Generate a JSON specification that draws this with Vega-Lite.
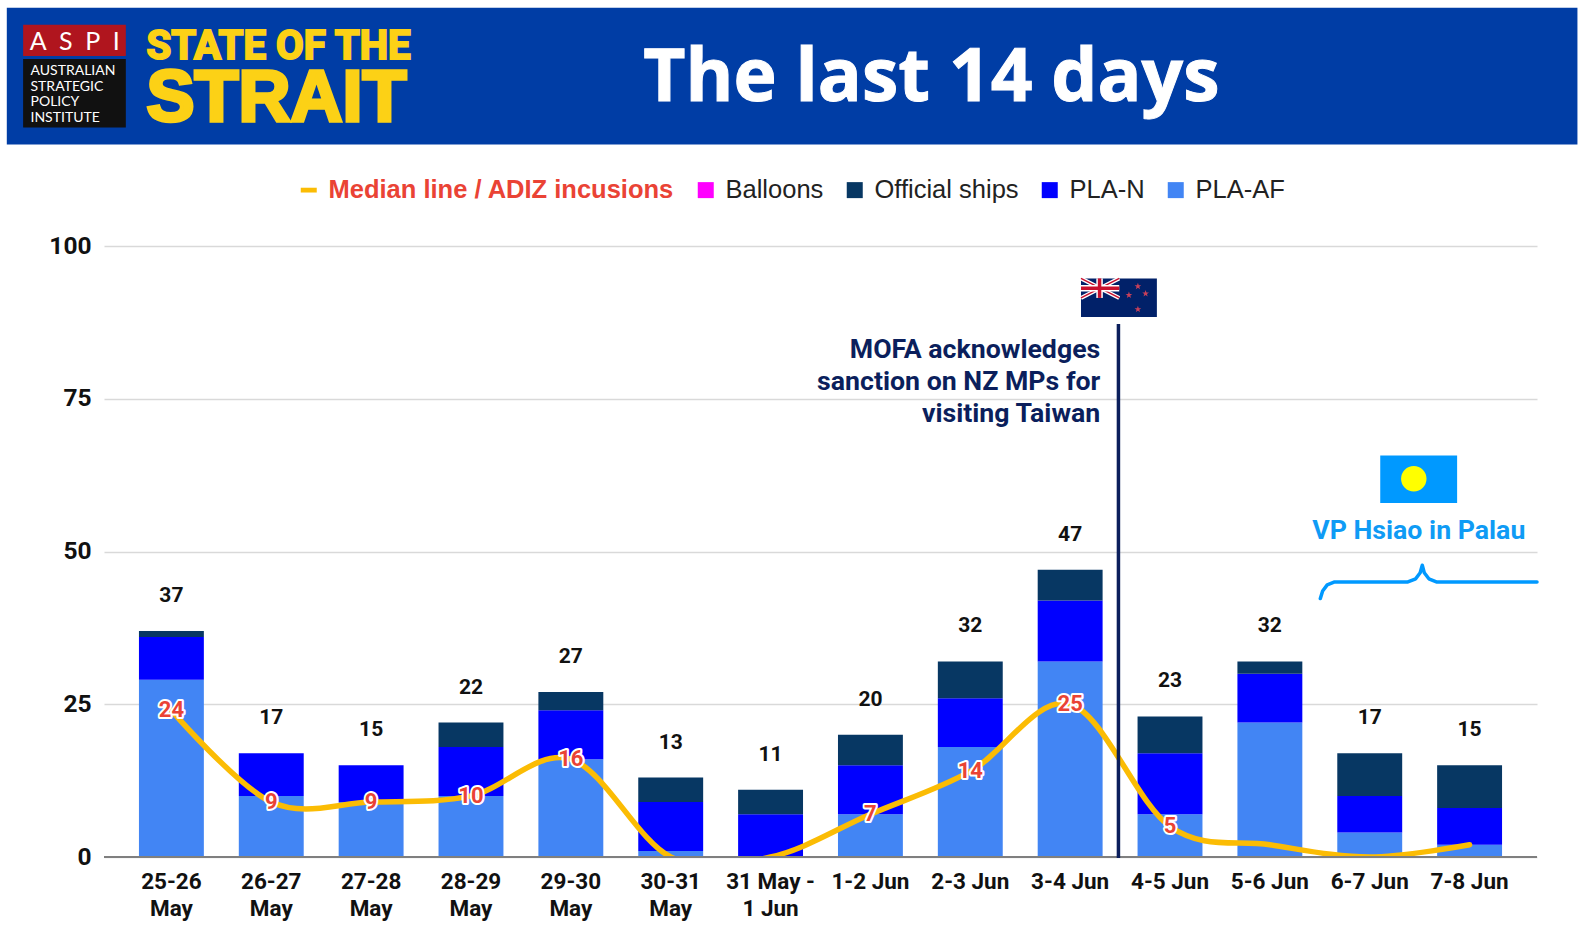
{
  "$schema": "https://vega.github.io/schema/vega-lite/v6.json",
  "width": 1433,
  "height": 611,
  "autosize": "none",
  "padding": {"left": 104, "top": 246, "right": 49, "bottom": 81},
  "background": "white",
  "config": {"view": {"stroke": null}, "text": {"font": "Roboto"}},
  "datasets": {
    "counts": [
      {"period": "25-26 May", "series": "PLA-AF", "rank": 1, "count": 29},
      {"period": "25-26 May", "series": "PLA-N", "rank": 2, "count": 7},
      {"period": "25-26 May", "series": "Official ships", "rank": 3, "count": 1},
      {"period": "26-27 May", "series": "PLA-AF", "rank": 1, "count": 10},
      {"period": "26-27 May", "series": "PLA-N", "rank": 2, "count": 7},
      {"period": "26-27 May", "series": "Official ships", "rank": 3, "count": 0},
      {"period": "27-28 May", "series": "PLA-AF", "rank": 1, "count": 9},
      {"period": "27-28 May", "series": "PLA-N", "rank": 2, "count": 6},
      {"period": "27-28 May", "series": "Official ships", "rank": 3, "count": 0},
      {"period": "28-29 May", "series": "PLA-AF", "rank": 1, "count": 10},
      {"period": "28-29 May", "series": "PLA-N", "rank": 2, "count": 8},
      {"period": "28-29 May", "series": "Official ships", "rank": 3, "count": 4},
      {"period": "29-30 May", "series": "PLA-AF", "rank": 1, "count": 16},
      {"period": "29-30 May", "series": "PLA-N", "rank": 2, "count": 8},
      {"period": "29-30 May", "series": "Official ships", "rank": 3, "count": 3},
      {"period": "30-31 May", "series": "PLA-AF", "rank": 1, "count": 1},
      {"period": "30-31 May", "series": "PLA-N", "rank": 2, "count": 8},
      {"period": "30-31 May", "series": "Official ships", "rank": 3, "count": 4},
      {"period": "31 May - 1 Jun", "series": "PLA-AF", "rank": 1, "count": 0},
      {"period": "31 May - 1 Jun", "series": "PLA-N", "rank": 2, "count": 7},
      {"period": "31 May - 1 Jun", "series": "Official ships", "rank": 3, "count": 4},
      {"period": "1-2 Jun", "series": "PLA-AF", "rank": 1, "count": 7},
      {"period": "1-2 Jun", "series": "PLA-N", "rank": 2, "count": 8},
      {"period": "1-2 Jun", "series": "Official ships", "rank": 3, "count": 5},
      {"period": "2-3 Jun", "series": "PLA-AF", "rank": 1, "count": 18},
      {"period": "2-3 Jun", "series": "PLA-N", "rank": 2, "count": 8},
      {"period": "2-3 Jun", "series": "Official ships", "rank": 3, "count": 6},
      {"period": "3-4 Jun", "series": "PLA-AF", "rank": 1, "count": 32},
      {"period": "3-4 Jun", "series": "PLA-N", "rank": 2, "count": 10},
      {"period": "3-4 Jun", "series": "Official ships", "rank": 3, "count": 5},
      {"period": "4-5 Jun", "series": "PLA-AF", "rank": 1, "count": 7},
      {"period": "4-5 Jun", "series": "PLA-N", "rank": 2, "count": 10},
      {"period": "4-5 Jun", "series": "Official ships", "rank": 3, "count": 6},
      {"period": "5-6 Jun", "series": "PLA-AF", "rank": 1, "count": 22},
      {"period": "5-6 Jun", "series": "PLA-N", "rank": 2, "count": 8},
      {"period": "5-6 Jun", "series": "Official ships", "rank": 3, "count": 2},
      {"period": "6-7 Jun", "series": "PLA-AF", "rank": 1, "count": 4},
      {"period": "6-7 Jun", "series": "PLA-N", "rank": 2, "count": 6},
      {"period": "6-7 Jun", "series": "Official ships", "rank": 3, "count": 7},
      {"period": "7-8 Jun", "series": "PLA-AF", "rank": 1, "count": 2},
      {"period": "7-8 Jun", "series": "PLA-N", "rank": 2, "count": 6},
      {"period": "7-8 Jun", "series": "Official ships", "rank": 3, "count": 7}
    ],
    "median": [
      {"period": "25-26 May", "median": 24},
      {"period": "26-27 May", "median": 9},
      {"period": "27-28 May", "median": 9},
      {"period": "28-29 May", "median": 10},
      {"period": "29-30 May", "median": 16},
      {"period": "30-31 May", "median": 0},
      {"period": "31 May - 1 Jun", "median": 0},
      {"period": "1-2 Jun", "median": 7},
      {"period": "2-3 Jun", "median": 14},
      {"period": "3-4 Jun", "median": 25},
      {"period": "4-5 Jun", "median": 5},
      {"period": "5-6 Jun", "median": 2},
      {"period": "6-7 Jun", "median": 0},
      {"period": "7-8 Jun", "median": 2}
    ],
    "brace": [
      {"day": 12.014, "value": 42.3},
      {"day": 12.037, "value": 43.54},
      {"day": 12.083, "value": 44.54},
      {"day": 12.157, "value": 45.02},
      {"day": 12.891, "value": 45.02},
      {"day": 12.969, "value": 45.53},
      {"day": 13.014, "value": 46.52},
      {"day": 13.035, "value": 47.75},
      {"day": 13.055, "value": 46.52},
      {"day": 13.101, "value": 45.53},
      {"day": 13.176, "value": 45.02},
      {"day": 14.184, "value": 45.02}
    ],
    "stars": [
      {"day": 10.187, "value": 93.4},
      {"day": 10.097, "value": 91.96},
      {"day": 10.264, "value": 92.2},
      {"day": 10.187, "value": 89.65}
    ]
  },
  "resolve": {"scale": {"x": "independent"}, "axis": {"y": "independent"}},
  "layer": [
    {
      "layer": [
        {
          "data": {"name": "counts"},
          "mark": {"type": "bar"},
          "encoding": {
            "x": {
              "field": "period",
              "type": "nominal",
              "sort": null,
              "title": null,
              "scale": {"paddingInner": 0.35, "paddingOuter": 0.35},
              "axis": {
                "domain": false,
                "ticks": false,
                "labelAngle": 0,
                "labelFont": "Roboto",
                "labelFontWeight": 700,
                "labelFontSize": 22.5,
                "labelColor": "#111111",
                "labelPadding": 13,
                "labelLineHeight": 27,
                "labelOverlap": false,
                "labelLimit": 200,
                "labelExpr": "datum.label == '31 May - 1 Jun' ? ['31 May -', '1 Jun'] : indexof(datum.label, 'May') > 0 ? [replace(datum.label, ' May', ''), 'May'] : datum.label"
              }
            },
            "y": {
              "aggregate": "sum",
              "field": "count",
              "type": "quantitative",
              "title": null,
              "scale": {"domain": [0, 100], "nice": false},
              "axis": {
                "values": [0, 25, 50, 75, 100],
                "domain": false,
                "ticks": false,
                "grid": true,
                "gridColor": "#d9d9d9",
                "gridWidth": 1.5,
                "labelFont": "Roboto",
                "labelFontWeight": 700,
                "labelFontSize": 24.5,
                "labelColor": "#111111",
                "labelPadding": 13
              }
            },
            "color": {
              "field": "series",
              "type": "nominal",
              "title": null,
              "scale": {
                "domain": ["Median line / ADIZ incusions", "Balloons", "Official ships", "PLA-N", "PLA-AF"],
                "range": ["#fbbc04", "#ff00ff", "#073763", "#0000ff", "#4285f4"]
              },
              "legend": {
                "orient": "none",
                "legendX": 192,
                "legendY": -69,
                "direction": "horizontal",
                "columns": 5,
                "columnPadding": 18,
                "symbolSize": 256,
                "symbolStrokeWidth": 0,
                "labelOffset": 7,
                "labelFont": "Liberation Sans",
                "labelFontSize": 25.5,
                "labelLimit": 500,
                "encode": {
                  "symbols": {
                    "update": {
                      "shape": {"signal": "datum.value == 'Median line / ADIZ incusions' ? 'M-1,-0.3H1V0.3H-1Z' : 'square'"}
                    }
                  },
                  "labels": {
                    "update": {
                      "fill": {"signal": "datum.value == 'Median line / ADIZ incusions' ? '#ea4335' : '#222222'"},
                      "fontWeight": {"signal": "datum.value == 'Median line / ADIZ incusions' ? 'bold' : 'normal'"}
                    }
                  }
                }
              }
            },
            "order": {"field": "rank", "type": "quantitative"}
          }
        },
        {
          "data": {"name": "counts"},
          "mark": {"type": "text", "fontSize": 21, "fontWeight": 700, "color": "#111111", "dy": -35},
          "encoding": {
            "x": {"field": "period", "type": "nominal", "sort": null},
            "y": {"aggregate": "sum", "field": "count", "type": "quantitative"},
            "text": {"aggregate": "sum", "field": "count", "type": "quantitative"}
          }
        },
        {
          "data": {"name": "median"},
          "mark": {"type": "line", "interpolate": "cardinal", "color": "#fbbc04", "strokeWidth": 5.5, "strokeCap": "round", "clip": true},
          "encoding": {
            "x": {"field": "period", "type": "nominal", "sort": null},
            "y": {"field": "median", "type": "quantitative"}
          }
        },
        {
          "data": {"name": "median"},
          "transform": [{"filter": "datum.median >= 5"}],
          "mark": {"type": "text", "fontSize": 22, "fontWeight": 700, "color": "white", "stroke": "white", "strokeWidth": 4, "strokeJoin": "round"},
          "encoding": {
            "x": {"field": "period", "type": "nominal", "sort": null},
            "y": {"field": "median", "type": "quantitative"},
            "text": {"field": "median", "type": "quantitative"}
          }
        },
        {
          "data": {"name": "median"},
          "transform": [{"filter": "datum.median >= 5"}],
          "mark": {"type": "text", "fontSize": 22, "fontWeight": 700, "color": "#ea4335"},
          "encoding": {
            "x": {"field": "period", "type": "nominal", "sort": null},
            "y": {"field": "median", "type": "quantitative"},
            "text": {"field": "median", "type": "quantitative"}
          }
        }
      ]
    },
    {
      "data": {"values": [{}]},
      "layer": [
        {
          "mark": {"type": "rect", "color": "#003da5"},
          "encoding": {
            "x": {"datum": -1.1415, "type": "quantitative", "axis": null, "scale": {"domain": [-0.168, 14.184], "nice": false, "zero": false}},
            "x2": {"datum": 14.589},
            "y": {"datum": 139, "type": "quantitative", "axis": null},
            "y2": {"datum": 116.6}
          }
        },
        {
          "mark": {"type": "rect", "color": "#b0151e"},
          "encoding": {
            "x": {"datum": -0.978, "type": "quantitative", "axis": null},
            "x2": {"datum": 0.0506},
            "y": {"datum": 136.2, "type": "quantitative", "axis": null},
            "y2": {"datum": 131.1}
          }
        },
        {
          "mark": {"type": "rect", "color": "#111111"},
          "encoding": {
            "x": {"datum": -0.978, "type": "quantitative", "axis": null},
            "x2": {"datum": 0.0506},
            "y": {"datum": 130.6, "type": "quantitative", "axis": null},
            "y2": {"datum": 119.4}
          }
        },
        {
          "mark": {"type": "text", "text": "A\u2002S\u2002P\u2002I", "font": "Lato", "fontSize": 25, "color": "white", "align": "center", "baseline": "alphabetic"},
          "encoding": {
            "x": {"datum": -0.462, "type": "quantitative", "axis": null},
            "y": {"datum": 132.05, "type": "quantitative", "axis": null}
          }
        },
        {
          "mark": {"type": "text", "text": "AUSTRALIAN|STRATEGIC|POLICY|INSTITUTE", "lineBreak": "|", "lineHeight": 15.7, "font": "Lato", "fontSize": 14, "color": "white", "align": "left", "baseline": "alphabetic"},
          "encoding": {
            "x": {"datum": -0.904, "type": "quantitative", "axis": null},
            "y": {"datum": 127.99, "type": "quantitative", "axis": null}
          }
        },
        {
          "mark": {"type": "text", "text": "STATE OF THE", "font": "Roboto", "fontSize": 40.2, "fontWeight": "bold", "color": "#fcd116", "stroke": "#fcd116", "strokeWidth": 2, "align": "left", "baseline": "alphabetic"},
          "encoding": {
            "x": {"datum": 0.257, "type": "quantitative", "axis": null},
            "y": {"datum": 130.6, "type": "quantitative", "axis": null}
          }
        },
        {
          "mark": {"type": "text", "text": "STRAIT", "font": "Liberation Sans", "fontSize": 72, "fontWeight": "bold", "color": "#fcd116", "stroke": "#fcd116", "strokeWidth": 3.5, "align": "left", "baseline": "alphabetic"},
          "encoding": {
            "x": {"datum": 0.257, "type": "quantitative", "axis": null},
            "y": {"datum": 120.5, "type": "quantitative", "axis": null}
          }
        },
        {
          "mark": {"type": "text", "text": "The last 14 days", "font": "Open Sans", "fontSize": 73, "fontWeight": "bold", "color": "white", "stroke": "white", "strokeWidth": 1, "align": "center", "baseline": "alphabetic"},
          "encoding": {
            "x": {"datum": 8.118, "type": "quantitative", "axis": null},
            "y": {"datum": 123.7, "type": "quantitative", "axis": null}
          }
        },
        {
          "mark": {"type": "rule", "color": "#7f7f7f", "strokeWidth": 2},
          "encoding": {
            "x": {"datum": -0.168, "type": "quantitative", "axis": null},
            "x2": {"datum": 14.184},
            "y": {"datum": 0, "type": "quantitative", "axis": null}
          }
        },
        {
          "mark": {"type": "rule", "color": "#0b1f5c", "strokeWidth": 3.5},
          "encoding": {
            "x": {"datum": 9.992, "type": "quantitative", "axis": null},
            "y": {"datum": 87.25, "type": "quantitative", "axis": null},
            "y2": {"datum": -0.17}
          }
        },
        {
          "mark": {"type": "text", "text": "MOFA acknowledges|sanction on NZ MPs for|visiting Taiwan", "lineBreak": "|", "lineHeight": 32, "fontSize": 26.7, "fontWeight": 700, "color": "#0b1f5c", "align": "right", "baseline": "alphabetic"},
          "encoding": {
            "x": {"datum": 9.81, "type": "quantitative", "axis": null},
            "y": {"datum": 81.6, "type": "quantitative", "axis": null}
          }
        },
        {
          "mark": {"type": "rect", "color": "#012169"},
          "encoding": {
            "x": {"datum": 9.617, "type": "quantitative", "axis": null},
            "x2": {"datum": 10.377},
            "y": {"datum": 94.7, "type": "quantitative", "axis": null},
            "y2": {"datum": 88.4}
          }
        },
        {
          "mark": {"type": "rule", "color": "white", "strokeWidth": 4},
          "encoding": {
            "x": {"datum": 9.617, "type": "quantitative", "axis": null},
            "x2": {"datum": 10.0},
            "y": {"datum": 94.7, "type": "quantitative", "axis": null},
            "y2": {"datum": 91.5}
          }
        },
        {
          "mark": {"type": "rule", "color": "white", "strokeWidth": 4},
          "encoding": {
            "x": {"datum": 9.617, "type": "quantitative", "axis": null},
            "x2": {"datum": 10.0},
            "y": {"datum": 91.5, "type": "quantitative", "axis": null},
            "y2": {"datum": 94.7}
          }
        },
        {
          "mark": {"type": "rule", "color": "#c8102e", "strokeWidth": 1.5},
          "encoding": {
            "x": {"datum": 9.617, "type": "quantitative", "axis": null},
            "x2": {"datum": 10.0},
            "y": {"datum": 94.7, "type": "quantitative", "axis": null},
            "y2": {"datum": 91.5}
          }
        },
        {
          "mark": {"type": "rule", "color": "#c8102e", "strokeWidth": 1.5},
          "encoding": {
            "x": {"datum": 9.617, "type": "quantitative", "axis": null},
            "x2": {"datum": 10.0},
            "y": {"datum": 91.5, "type": "quantitative", "axis": null},
            "y2": {"datum": 94.7}
          }
        },
        {
          "mark": {"type": "rule", "color": "white", "strokeWidth": 6.5},
          "encoding": {
            "x": {"datum": 9.803, "type": "quantitative", "axis": null},
            "y": {"datum": 94.7, "type": "quantitative", "axis": null},
            "y2": {"datum": 91.5}
          }
        },
        {
          "mark": {"type": "rule", "color": "white", "strokeWidth": 6.5},
          "encoding": {
            "x": {"datum": 9.617, "type": "quantitative", "axis": null},
            "x2": {"datum": 10.0},
            "y": {"datum": 93.1, "type": "quantitative", "axis": null}
          }
        },
        {
          "mark": {"type": "rule", "color": "#c8102e", "strokeWidth": 3.5},
          "encoding": {
            "x": {"datum": 9.803, "type": "quantitative", "axis": null},
            "y": {"datum": 94.7, "type": "quantitative", "axis": null},
            "y2": {"datum": 91.5}
          }
        },
        {
          "mark": {"type": "rule", "color": "#c8102e", "strokeWidth": 3.5},
          "encoding": {
            "x": {"datum": 9.617, "type": "quantitative", "axis": null},
            "x2": {"datum": 10.0},
            "y": {"datum": 93.1, "type": "quantitative", "axis": null}
          }
        },
        {
          "data": {"name": "stars"},
          "mark": {"type": "point", "filled": true, "color": "#c8405a", "opacity": 1, "size": 50, "shape": "M0,-1L0.24,-0.31L0.95,-0.31L0.38,0.12L0.59,0.81L0,0.4L-0.59,0.81L-0.38,0.12L-0.95,-0.31L-0.24,-0.31Z"},
          "encoding": {
            "x": {"field": "day", "type": "quantitative", "axis": null},
            "y": {"field": "value", "type": "quantitative", "axis": null}
          }
        },
        {
          "mark": {"type": "rect", "color": "#0099ff"},
          "encoding": {
            "x": {"datum": 12.614, "type": "quantitative", "axis": null},
            "x2": {"datum": 13.384},
            "y": {"datum": 65.7, "type": "quantitative", "axis": null},
            "y2": {"datum": 57.95}
          }
        },
        {
          "mark": {"type": "point", "shape": "circle", "filled": true, "color": "#ffff00", "opacity": 1, "size": 647},
          "encoding": {
            "x": {"datum": 12.95, "type": "quantitative", "axis": null},
            "y": {"datum": 61.9, "type": "quantitative", "axis": null}
          }
        },
        {
          "mark": {"type": "text", "text": "VP Hsiao in Palau", "fontSize": 26.7, "fontWeight": 700, "color": "#0f9bf5", "align": "center", "baseline": "alphabetic"},
          "encoding": {
            "x": {"datum": 13.0, "type": "quantitative", "axis": null},
            "y": {"datum": 52.07, "type": "quantitative", "axis": null}
          }
        },
        {
          "data": {"name": "brace"},
          "mark": {"type": "line", "color": "#0099ff", "strokeWidth": 3.5, "strokeCap": "round", "strokeJoin": "round"},
          "encoding": {
            "x": {"field": "day", "type": "quantitative", "axis": null, "sort": null},
            "y": {"field": "value", "type": "quantitative", "axis": null}
          }
        }
      ]
    }
  ]
}
